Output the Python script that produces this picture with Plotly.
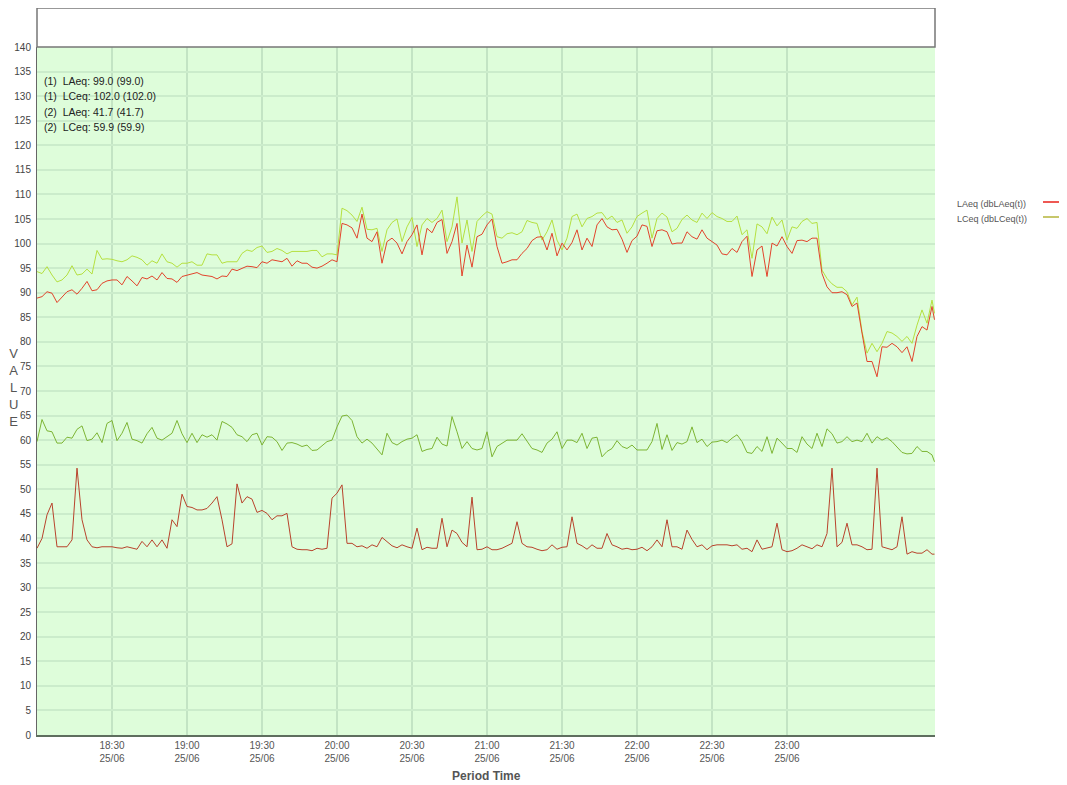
import plotly.graph_objects as go
from datetime import datetime, timedelta

# minutes after 18:00 on 25/06 (2-minute samples, plus final sample)
minutes = list(range(0, 360, 2)) + [359]

laeq_1 = [88.9, 89.2, 90.2, 89.9, 88.0, 89.1, 90.2, 90.6, 89.7, 90.9, 92.3, 90.4, 90.6, 91.9, 92.4, 92.6, 92.6, 91.6, 93.3, 92.4,
          91.4, 93.1, 92.8, 93.4, 92.6, 94.1, 92.9, 92.8, 92.1, 93.3, 93.6, 93.8, 94.1, 93.6, 93.4, 93.3, 92.8, 93.4, 93.3, 94.8,
          94.5, 95.0, 95.4, 95.3, 95.1, 96.3, 96.0, 96.7, 96.5, 96.3, 97.0, 95.4, 96.5, 96.0, 96.0, 95.2, 95.0, 95.4, 96.0, 96.7,
          96.3,
          104.1, 103.8, 103.2, 101.1, 106.0, 101.1, 100.4, 102.4, 96.0, 100.4, 101.1, 100.1, 97.9, 100.4, 101.8, 103.8, 97.7, 103.1,
          102.2, 104.3, 104.9, 98.0, 100.4, 104.1, 93.4, 99.7, 95.2, 101.4, 101.9, 103.8, 105.0, 99.4, 96.0, 96.3, 96.7, 96.7, 98.0,
          99.0, 100.6, 101.3, 101.4, 98.7, 102.1, 97.5, 100.1, 98.7, 100.2, 102.8, 98.7, 101.1, 99.4, 103.8, 105.1, 103.4, 102.8, 102.9,
          100.9, 98.2, 100.6, 101.5, 103.8, 103.5, 99.4, 102.6, 102.8, 102.4, 99.9, 100.1, 100.1, 102.4, 101.4, 100.9, 102.8, 101.1,
          100.4, 99.7, 97.9, 97.7, 99.0, 98.2, 100.4, 101.5, 93.3, 98.7, 99.5, 93.3, 100.1, 99.5, 101.4, 99.4, 98.0, 100.6, 100.7,
          100.4, 101.1, 101.1, 93.9, 91.2, 90.0, 90.0, 90.2, 89.6, 87.2, 87.9, 81.8, 76.0, 76.0, 72.9, 79.0, 78.9, 79.7, 79.0, 77.8,
          79.0, 76.0, 81.1, 83.1, 82.4, 87.2, 84.5]

lceq_1 = [94.3, 93.9, 95.3, 93.6, 92.2, 92.6, 93.6, 95.5, 93.6, 93.8, 94.8, 93.8, 98.6, 96.8, 96.9, 96.8, 96.5, 96.3, 96.7, 97.5,
          97.2, 96.7, 95.6, 96.5, 96.0, 97.9, 96.3, 96.0, 95.2, 96.0, 96.0, 96.3, 95.6, 95.6, 97.9, 97.7, 97.7, 96.0, 96.3, 96.3,
          96.3, 98.0, 98.7, 98.4, 99.2, 99.5, 98.2, 98.4, 99.0, 98.6, 97.9, 98.4, 98.4, 98.5, 98.4, 98.6, 98.6, 97.3, 97.9, 97.9,
          97.7,
          107.2, 106.7, 105.8, 104.5, 107.4, 102.9, 102.8, 103.1, 98.4, 102.8, 104.3, 105.0, 100.4, 103.4, 105.3, 99.4, 103.8, 105.1,
          104.3, 105.1, 106.8, 100.4, 103.4, 109.5, 100.1, 104.8, 98.4, 104.5, 105.6, 106.5, 106.0, 101.4, 101.1, 102.0, 102.2, 101.8,
          102.4, 104.7, 104.3, 104.1, 100.7, 102.4, 104.8, 100.7, 98.7, 101.1, 105.5, 106.0, 103.4, 105.1, 105.5, 106.2, 106.3, 104.9,
          105.6, 104.3,
          104.8, 102.1, 103.4, 105.5, 106.2, 106.8, 101.1, 105.1, 106.2, 105.4, 102.4, 103.1, 104.9, 105.8, 104.8, 104.3, 106.2, 105.1,
          106.3, 105.5, 105.1, 104.5, 104.5, 105.6, 101.8, 102.8, 97.0, 104.0, 103.4, 102.0, 105.4, 103.6, 104.8, 100.7, 103.4, 103.1,
          104.5, 105.1, 104.1, 104.3, 94.6, 92.9, 91.8, 91.1, 91.1, 90.2, 87.5, 89.1, 82.1, 77.7, 79.7, 78.0, 79.7, 82.1, 81.8, 81.1,
          80.1, 81.1, 79.7, 83.4, 86.5, 83.8, 88.5, 85.8]

laeq_2 = [38.0, 40.0, 44.8, 47.2, 38.3, 38.3, 38.3, 39.7, 54.3, 43.8, 39.7, 38.3, 38.1, 38.3, 38.3, 38.3, 38.1, 38.0, 38.3, 38.1,
          37.8, 39.4, 38.3, 39.7, 38.3, 39.7, 38.0, 43.8, 42.4, 49.0, 46.5, 46.3, 45.8, 45.8, 46.1, 47.2, 48.5, 43.8, 38.3, 38.9,
          51.1, 47.2, 48.5, 48.0, 45.3, 45.7, 45.1, 43.8, 44.6, 44.6, 45.1, 38.3, 37.8, 37.7, 37.7, 37.5, 38.0, 37.8, 38.0, 48.2,
          49.2,
          50.9, 39.0, 39.0, 38.3, 38.5, 38.0, 38.7, 38.3, 40.2, 39.4, 38.5, 38.1, 38.7, 38.3, 38.0, 42.1, 37.7, 38.2, 38.0, 38.0,
          44.1, 38.3, 41.7, 41.0, 39.2, 38.3, 48.4, 37.7, 37.8, 38.3, 37.7, 37.7, 38.0, 38.5, 39.0, 43.4, 39.0, 38.3, 38.2, 37.8,
          37.5, 37.7, 38.7, 37.8, 38.2, 38.3, 44.4, 39.0, 38.5, 37.8, 38.7, 38.0, 38.0, 41.0, 38.7, 38.3,
          37.8, 38.0, 37.7, 37.8, 38.2, 37.5, 38.3, 39.7, 38.3, 43.8, 38.3, 38.3, 37.8, 41.7, 39.8, 38.3, 38.7, 37.7, 38.5, 38.7,
          38.7, 38.7, 38.5, 38.7, 37.8, 38.0, 37.3, 39.7, 37.8, 38.0, 38.3, 43.1, 37.7, 37.3, 37.5, 38.0, 38.7, 38.3, 37.9, 38.7,
          38.3, 41.0, 54.3, 38.3, 39.2, 43.1, 38.7, 38.7, 38.3, 37.7, 37.8, 54.3, 38.3, 38.0, 37.7, 38.3, 44.4, 36.8, 37.3, 37.0,
          37.0, 37.7, 36.8, 36.8]

lceq_2 = [59.7, 64.2, 61.9, 61.7, 59.4, 59.4, 60.6, 60.4, 62.2, 62.9, 59.9, 60.2, 61.5, 59.5, 63.4, 64.0, 59.9, 61.4, 63.6, 60.2,
          59.9, 59.4, 61.3, 62.6, 60.4, 60.0, 60.7, 61.4, 64.0, 61.3, 59.5, 61.4, 59.5, 61.1, 60.6, 61.1, 60.0, 63.8, 63.3, 62.6,
          61.1, 60.7, 59.7, 61.1, 61.4, 59.0, 60.7, 60.6, 59.7, 57.9, 59.4, 59.5, 59.2, 58.7, 59.0, 57.9, 58.0, 58.8, 59.7, 60.0,
          62.7,
          64.9, 65.1, 64.0, 60.7, 59.4, 60.2, 59.4, 58.1, 57.0, 61.4, 59.5, 59.0, 59.7, 60.2, 60.4, 61.1, 57.7, 58.1, 58.3, 60.6,
          59.2, 58.8, 64.8, 61.7, 58.3, 59.7, 58.3, 58.0, 58.3, 61.7, 56.6, 58.7, 59.4, 60.0, 60.0, 60.0, 61.3, 59.7, 58.3, 58.0,
          57.5, 59.4, 60.2, 61.7, 58.3, 60.0, 60.0, 59.5, 61.4, 58.3, 60.4, 60.6, 56.6, 57.7, 58.3, 59.9,
          58.7, 58.3, 59.0, 58.0, 58.0, 58.0, 59.7, 63.4, 58.1, 61.1, 57.9, 59.5, 59.2, 59.7, 62.7, 59.5, 60.2, 58.7, 59.6, 59.7,
          60.0, 59.5, 60.4, 61.1, 59.7, 57.5, 57.3, 58.7, 57.7, 60.7, 57.3, 60.4, 59.4, 58.3, 58.3, 57.5, 60.7, 59.2, 58.3, 61.4,
          58.7, 62.3, 61.3, 59.4, 59.7, 60.7, 59.7, 60.0, 59.7, 61.4, 59.4, 60.7, 60.0, 60.5, 59.7, 58.7, 57.5, 57.2, 57.3, 58.7,
          57.7, 57.7, 57.0, 55.6]

summary_lines = ["(1)  LAeq: 99.0 (99.0)", "(1)  LCeq: 102.0 (102.0)",
                 "(2)  LAeq: 41.7 (41.7)", "(2)  LCeq: 59.9 (59.9)"]
legend_labels = ["LAeq (dbLAeq(t))", "LCeq (dbLCeq(t))"]
tick_times = ["18:30", "19:00", "19:30", "20:00", "20:30", "21:00", "21:30", "22:00", "22:30", "23:00"]
tick_date = "25/06"

start = datetime(2024, 6, 25, 18, 0)
times = [start + timedelta(minutes=m) for m in minutes]
tickvals = [datetime(2024, 6, 25, int(t[:2]), int(t[3:])) for t in tick_times]
ticktext = [f"{t}<br>{tick_date}" for t in tick_times]

FONT = "Liberation Sans, Arial, sans-serif"
PLOT_H = 688.0  # plot height in px
PLOT_W = 898.0  # plot width in px

fig = go.Figure()
fig.add_trace(go.Scatter(x=times, y=lceq_2, mode="lines", line=dict(color="#7db534", width=1), name="LCeq 2"))
fig.add_trace(go.Scatter(x=times, y=laeq_2, mode="lines", line=dict(color="#b8432c", width=1), name="LAeq 2"))
fig.add_trace(go.Scatter(x=times, y=lceq_1, mode="lines", line=dict(color="#b5e040", width=1), name="LCeq 1"))
fig.add_trace(go.Scatter(x=times, y=laeq_1, mode="lines", line=dict(color="#e2442c", width=1), name="LAeq 1"))

box_top = 1 + 39 / PLOT_H
shapes = [
    dict(type="rect", xref="paper", yref="paper", x0=0, x1=1, y0=1, y1=box_top,
         fillcolor="white", line=dict(color="#777777", width=1.5)),
    dict(type="line", xref="paper", yref="paper", x0=(1043 - 37) / PLOT_W, x1=(1066 - 37) / PLOT_W,
         y0=(735 - 202) / PLOT_H, y1=(735 - 202) / PLOT_H, line=dict(color="#e8201a", width=1.5)),
    dict(type="line", xref="paper", yref="paper", x0=(1043 - 37) / PLOT_W, x1=(1066 - 37) / PLOT_W,
         y0=(735 - 217) / PLOT_H, y1=(735 - 217) / PLOT_H, line=dict(color="#b5b53a", width=1.5)),
]

annotations = []
for i, txt in enumerate(summary_lines):
    annotations.append(dict(xref="paper", yref="paper", x=(42 - 37) / PLOT_W, y=(735 - (81 + i * 15.3)) / PLOT_H,
                            text=txt, showarrow=False, xanchor="left", yanchor="middle",
                            font=dict(family=FONT, size=10.5, color="#222222")))
for i, txt in enumerate(legend_labels):
    annotations.append(dict(xref="paper", yref="paper", x=(955 - 37) / PLOT_W, y=(735 - (204 + i * 14.5)) / PLOT_H,
                            text=txt, showarrow=False, xanchor="left", yanchor="middle",
                            font=dict(family=FONT, size=9, color="#555555")))
annotations.append(dict(xref="paper", yref="paper", x=(13 - 37) / PLOT_W, y=(735 - 387) / PLOT_H,
                        text="V<br>A<br>L<br>U<br>E", showarrow=False, xanchor="center", yanchor="middle",
                        font=dict(family=FONT, size=13, color="#555555")))
annotations.append(dict(xref="paper", yref="paper", x=0.5, y=-(776 - 735) / PLOT_H,
                        text="<b>Period Time</b>", showarrow=False, xanchor="center", yanchor="middle",
                        font=dict(family=FONT, size=12, color="#555555")))

# page body has an 8px margin, so the figure is sized to the remaining window
fig.update_layout(
    width=1059, height=777,
    margin=dict(l=29, r=132, t=39, b=50, autoexpand=False),
    paper_bgcolor="white", plot_bgcolor="#defdda",
    showlegend=False,
    font=dict(family=FONT, size=10, color="#444444"),
    shapes=shapes, annotations=annotations,
    xaxis=dict(range=[start, start + timedelta(minutes=359.2)], tickmode="array", automargin=False,
               tickvals=tickvals, ticktext=ticktext, showgrid=True, gridcolor="#c3e4c4", gridwidth=2,
               showline=True, linecolor="#5e6e5e", linewidth=2, ticks="", zeroline=False,
               tickfont=dict(family=FONT, size=10, color="#555555")),
    yaxis=dict(range=[0, 140], tickmode="array", tickvals=list(range(0, 141, 5)), automargin=False,
               showgrid=True, gridcolor="#cbeccb", gridwidth=2, ticklabelstandoff=3,
               showline=True, linecolor="#666666", linewidth=1, ticks="", zeroline=False,
               tickfont=dict(family=FONT, size=10, color="#444444")),
)

fig.write_html("out.html")
